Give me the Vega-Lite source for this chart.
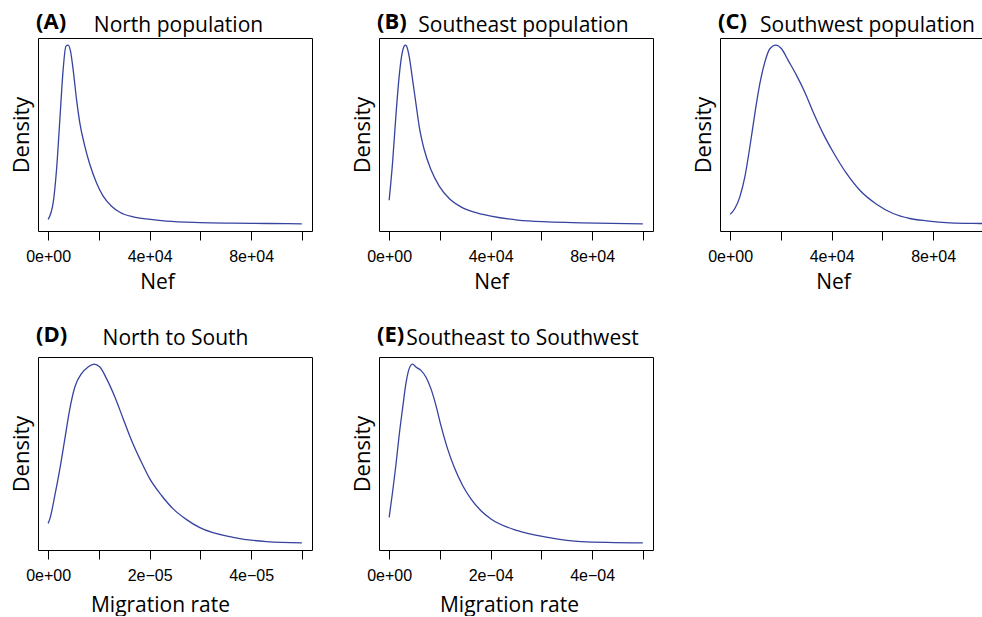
{
  "$schema": "https://vega.github.io/schema/vega-lite/v6.json",
  "autosize": {"type": "pad"},
  "padding": {"left": 9, "top": 10, "right": 0, "bottom": 0},
  "background": "white",
  "bounds": "flush",
  "columns": 3,
  "spacing": {"row": 126, "column": 67},
  "config": {
    "view": {"stroke": "black", "strokeWidth": 1},
    "axis": {"grid": false, "labelFont": "Liberation Sans", "labelFontSize": 16, "labelColor": "black", "tickColor": "black", "tickSize": 9, "tickWidth": 1, "titleFont": "Open Sans", "titleFontSize": 21, "titleFontWeight": "normal", "titleColor": "black"},
    "axisY": {"titleFontSize": 22},
    "title": {"font": "Open Sans", "fontWeight": "bold", "fontSize": 22, "color": "black", "anchor": "start", "frame": "group", "offset": 0, "dx": -2, "dy": 24},
    "line": {"color": "#36439f", "strokeWidth": 1.3, "interpolate": "monotone"}
  },
  "datasets": {
    "A": [
      {"Nef": 0, "density": 0.025}, {"Nef": 1971, "density": 0.117}, {"Nef": 3311, "density": 0.304}, {"Nef": 4612, "density": 0.583}, {"Nef": 5912, "density": 0.863}, {"Nef": 6977, "density": 0.993}, {"Nef": 7883, "density": 1.0}, {"Nef": 8829, "density": 0.965}, {"Nef": 9854, "density": 0.863}, {"Nef": 11194, "density": 0.695}, {"Nef": 12495, "density": 0.564}, {"Nef": 14466, "density": 0.434}, {"Nef": 16437, "density": 0.332}, {"Nef": 19078, "density": 0.229}, {"Nef": 21679, "density": 0.155}, {"Nef": 24990, "density": 0.099}, {"Nef": 28262, "density": 0.065}, {"Nef": 33504, "density": 0.039}, {"Nef": 40284, "density": 0.025}, {"Nef": 46670, "density": 0.015}, {"Nef": 59795, "density": 0.007}, {"Nef": 72802, "density": 0.004}, {"Nef": 86598, "density": 0.002}, {"Nef": 100000, "density": 0}
    ],
    "B": [
      {"Nef": 0, "density": 0.132}, {"Nef": 1342, "density": 0.341}, {"Nef": 2644, "density": 0.602}, {"Nef": 3946, "density": 0.825}, {"Nef": 4893, "density": 0.937}, {"Nef": 5919, "density": 0.995}, {"Nef": 6400, "density": 1.0}, {"Nef": 6867, "density": 0.995}, {"Nef": 7893, "density": 0.937}, {"Nef": 9234, "density": 0.807}, {"Nef": 10536, "density": 0.676}, {"Nef": 11839, "density": 0.546}, {"Nef": 13812, "density": 0.416}, {"Nef": 16456, "density": 0.304}, {"Nef": 19732, "density": 0.211}, {"Nef": 23678, "density": 0.142}, {"Nef": 28296, "density": 0.095}, {"Nef": 33544, "density": 0.065}, {"Nef": 40134, "density": 0.043}, {"Nef": 50671, "density": 0.021}, {"Nef": 62510, "density": 0.011}, {"Nef": 75651, "density": 0.006}, {"Nef": 100000, "density": 0}
    ],
    "C": [
      {"Nef": 0, "density": 0.053}, {"Nef": 1852, "density": 0.086}, {"Nef": 3823, "density": 0.151}, {"Nef": 5793, "density": 0.263}, {"Nef": 7764, "density": 0.43}, {"Nef": 9734, "density": 0.617}, {"Nef": 11705, "density": 0.784}, {"Nef": 13675, "density": 0.905}, {"Nef": 15646, "density": 0.98}, {"Nef": 18010, "density": 1.0}, {"Nef": 20257, "density": 0.98}, {"Nef": 22858, "density": 0.915}, {"Nef": 26168, "density": 0.831}, {"Nef": 29439, "density": 0.737}, {"Nef": 32710, "density": 0.626}, {"Nef": 36651, "density": 0.505}, {"Nef": 40592, "density": 0.402}, {"Nef": 45873, "density": 0.282}, {"Nef": 51112, "density": 0.188}, {"Nef": 57696, "density": 0.11}, {"Nef": 64238, "density": 0.058}, {"Nef": 70819, "density": 0.03}, {"Nef": 77401, "density": 0.017}, {"Nef": 86584, "density": 0.006}, {"Nef": 98617, "density": 0.002}, {"Nef": 110000, "density": 0}
    ],
    "D": [
      {"rate": 0, "density": 0.109}, {"rate": 3.35e-7, "density": 0.134}, {"rate": 1.32e-6, "density": 0.265}, {"rate": 2.31e-6, "density": 0.414}, {"rate": 3.29e-6, "density": 0.582}, {"rate": 4.28e-6, "density": 0.751}, {"rate": 5.26e-6, "density": 0.872}, {"rate": 6.58e-6, "density": 0.947}, {"rate": 7.88e-6, "density": 0.984}, {"rate": 9.01e-6, "density": 1.0}, {"rate": 1.019e-5, "density": 0.984}, {"rate": 1.151e-5, "density": 0.919}, {"rate": 1.315e-5, "density": 0.816}, {"rate": 1.478e-5, "density": 0.695}, {"rate": 1.644e-5, "density": 0.573}, {"rate": 1.807e-5, "density": 0.47}, {"rate": 2.004e-5, "density": 0.358}, {"rate": 2.235e-5, "density": 0.265}, {"rate": 2.464e-5, "density": 0.19}, {"rate": 2.728e-5, "density": 0.13}, {"rate": 2.99e-5, "density": 0.085}, {"rate": 3.646e-5, "density": 0.031}, {"rate": 4.304e-5, "density": 0.007}, {"rate": 5e-5, "density": 0}
    ],
    "E": [
      {"rate": 0, "density": 0.143}, {"rate": 6.7e-6, "density": 0.283}, {"rate": 1.32e-5, "density": 0.433}, {"rate": 1.97e-5, "density": 0.601}, {"rate": 2.64e-5, "density": 0.751}, {"rate": 3.3e-5, "density": 0.891}, {"rate": 3.95e-5, "density": 0.975}, {"rate": 4.62e-5, "density": 1.0}, {"rate": 5.27e-5, "density": 0.984}, {"rate": 6.26e-5, "density": 0.965}, {"rate": 7.24e-5, "density": 0.928}, {"rate": 8.23e-5, "density": 0.863}, {"rate": 9.22e-5, "density": 0.769}, {"rate": 0.000102, "density": 0.657}, {"rate": 0.0001152, "density": 0.526}, {"rate": 0.0001283, "density": 0.423}, {"rate": 0.0001448, "density": 0.321}, {"rate": 0.0001612, "density": 0.246}, {"rate": 0.0001809, "density": 0.18}, {"rate": 0.0002007, "density": 0.134}, {"rate": 0.0002534, "density": 0.068}, {"rate": 0.0003126, "density": 0.031}, {"rate": 0.0003783, "density": 0.007}, {"rate": 0.0005, "density": 0}
    ]
  },
  "concat": [
    {
      "width": 274, "height": 193,
      "title": {"text": "(A)"},
      "data": {"name": "A"},
      "resolve": {"axis": {"x": "independent"}},
      "layer": [
        {"mark": {"type": "line", "clip": true},
         "encoding": {
           "x": {"field": "Nef", "type": "quantitative", "scale": {"domain": [-4000, 104000], "nice": false, "zero": false},
                 "axis": {"title": "Nef", "titleX": 119, "values": [0, 20000, 40000, 60000, 80000, 100000], "labelExpr": "datum.value==0?'0e+00':datum.value==40000?'4e+04':datum.value==80000?'8e+04':''", "domain": false, "labelPadding": 8, "titlePadding": 7, "labelOverlap": false, "labelFlush": false}},
           "y": {"field": "density", "type": "quantitative", "scale": {"domain": [-0.04, 1.04], "nice": false, "zero": false},
                 "axis": {"title": "Density", "labels": false, "ticks": false, "domain": false, "titlePadding": 5}}}},
        {"mark": {"type": "line", "strokeOpacity": 0},
         "encoding": {
           "x": {"field": "Nef", "type": "quantitative", "axis": {"orient": "top", "title": "North population", "labels": false, "ticks": false, "domain": false, "titlePadding": 7, "titleBaseline": "alphabetic", "titleX": 140, "titleAlign": "center"}}}}
      ]
    },
    {
      "width": 274, "height": 193,
      "title": {"text": "(B)"},
      "data": {"name": "B"},
      "resolve": {"axis": {"x": "independent"}},
      "layer": [
        {"mark": {"type": "line", "clip": true},
         "encoding": {
           "x": {"field": "Nef", "type": "quantitative", "scale": {"domain": [-4000, 104000], "nice": false, "zero": false},
                 "axis": {"title": "Nef", "titleX": 112, "values": [0, 20000, 40000, 60000, 80000, 100000], "labelExpr": "datum.value==0?'0e+00':datum.value==40000?'4e+04':datum.value==80000?'8e+04':''", "domain": false, "labelPadding": 8, "titlePadding": 7, "labelOverlap": false, "labelFlush": false}},
           "y": {"field": "density", "type": "quantitative", "scale": {"domain": [-0.04, 1.04], "nice": false, "zero": false},
                 "axis": {"title": "Density", "labels": false, "ticks": false, "domain": false, "titlePadding": 5}}}},
        {"mark": {"type": "line", "strokeOpacity": 0},
         "encoding": {
           "x": {"field": "Nef", "type": "quantitative", "axis": {"orient": "top", "title": "Southeast population", "labels": false, "ticks": false, "domain": false, "titlePadding": 7, "titleBaseline": "alphabetic", "titleX": 144, "titleAlign": "center"}}}}
      ]
    },
    {
      "width": 274, "height": 193,
      "title": {"text": "(C)"},
      "data": {"name": "C"},
      "resolve": {"axis": {"x": "independent"}},
      "layer": [
        {"mark": {"type": "line", "clip": true},
         "encoding": {
           "x": {"field": "Nef", "type": "quantitative", "scale": {"domain": [-4000, 104000], "nice": false, "zero": false},
                 "axis": {"title": "Nef", "titleX": 113, "values": [0, 20000, 40000, 60000, 80000, 100000], "labelExpr": "datum.value==0?'0e+00':datum.value==40000?'4e+04':datum.value==80000?'8e+04':''", "domain": false, "labelPadding": 8, "titlePadding": 7, "labelOverlap": false, "labelFlush": false}},
           "y": {"field": "density", "type": "quantitative", "scale": {"domain": [-0.04, 1.04], "nice": false, "zero": false},
                 "axis": {"title": "Density", "labels": false, "ticks": false, "domain": false, "titlePadding": 5}}}},
        {"mark": {"type": "line", "strokeOpacity": 0},
         "encoding": {
           "x": {"field": "Nef", "type": "quantitative", "axis": {"orient": "top", "title": "Southwest population", "labels": false, "ticks": false, "domain": false, "titlePadding": 7, "titleBaseline": "alphabetic", "titleX": 147, "titleAlign": "center"}}}}
      ]
    },
    {
      "width": 274, "height": 193,
      "title": {"text": "(D)"},
      "data": {"name": "D"},
      "resolve": {"axis": {"x": "independent"}},
      "layer": [
        {"mark": {"type": "line", "clip": true},
         "encoding": {
           "x": {"field": "rate", "type": "quantitative", "scale": {"domain": [-0.000002, 0.000052], "nice": false, "zero": false},
                 "axis": {"title": "Migration rate", "titleX": 122, "values": [0, 0.00001, 0.00002, 0.00003, 0.00004, 0.00005], "labelExpr": "datum.value==0?'0e+00':abs(datum.value-0.00002)<1e-9?'2e\u221205':abs(datum.value-0.00004)<1e-9?'4e\u221205':''", "domain": false, "labelPadding": 8, "titlePadding": 11, "labelOverlap": false, "labelFlush": false}},
           "y": {"field": "density", "type": "quantitative", "scale": {"domain": [-0.04, 1.04], "nice": false, "zero": false},
                 "axis": {"title": "Density", "labels": false, "ticks": false, "domain": false, "titlePadding": 5}}}},
        {"mark": {"type": "line", "strokeOpacity": 0},
         "encoding": {
           "x": {"field": "rate", "type": "quantitative", "axis": {"orient": "top", "title": "North to South", "labels": false, "ticks": false, "domain": false, "titlePadding": 13, "titleBaseline": "alphabetic", "titleX": 137, "titleAlign": "center"}}}}
      ]
    },
    {
      "width": 274, "height": 193,
      "title": {"text": "(E)"},
      "data": {"name": "E"},
      "resolve": {"axis": {"x": "independent"}},
      "layer": [
        {"mark": {"type": "line", "clip": true},
         "encoding": {
           "x": {"field": "rate", "type": "quantitative", "scale": {"domain": [-0.00002, 0.00052], "nice": false, "zero": false},
                 "axis": {"title": "Migration rate", "titleX": 130, "values": [0, 0.0001, 0.0002, 0.0003, 0.0004, 0.0005], "labelExpr": "datum.value==0?'0e+00':abs(datum.value-0.0002)<1e-9?'2e\u221204':abs(datum.value-0.0004)<1e-9?'4e\u221204':''", "domain": false, "labelPadding": 8, "titlePadding": 11, "labelOverlap": false, "labelFlush": false}},
           "y": {"field": "density", "type": "quantitative", "scale": {"domain": [-0.04, 1.04], "nice": false, "zero": false},
                 "axis": {"title": "Density", "labels": false, "ticks": false, "domain": false, "titlePadding": 5}}}},
        {"mark": {"type": "line", "strokeOpacity": 0},
         "encoding": {
           "x": {"field": "rate", "type": "quantitative", "axis": {"orient": "top", "title": "Southeast to Southwest", "labels": false, "ticks": false, "domain": false, "titlePadding": 13, "titleBaseline": "alphabetic", "titleX": 143, "titleAlign": "center"}}}}
      ]
    }
  ]
}
